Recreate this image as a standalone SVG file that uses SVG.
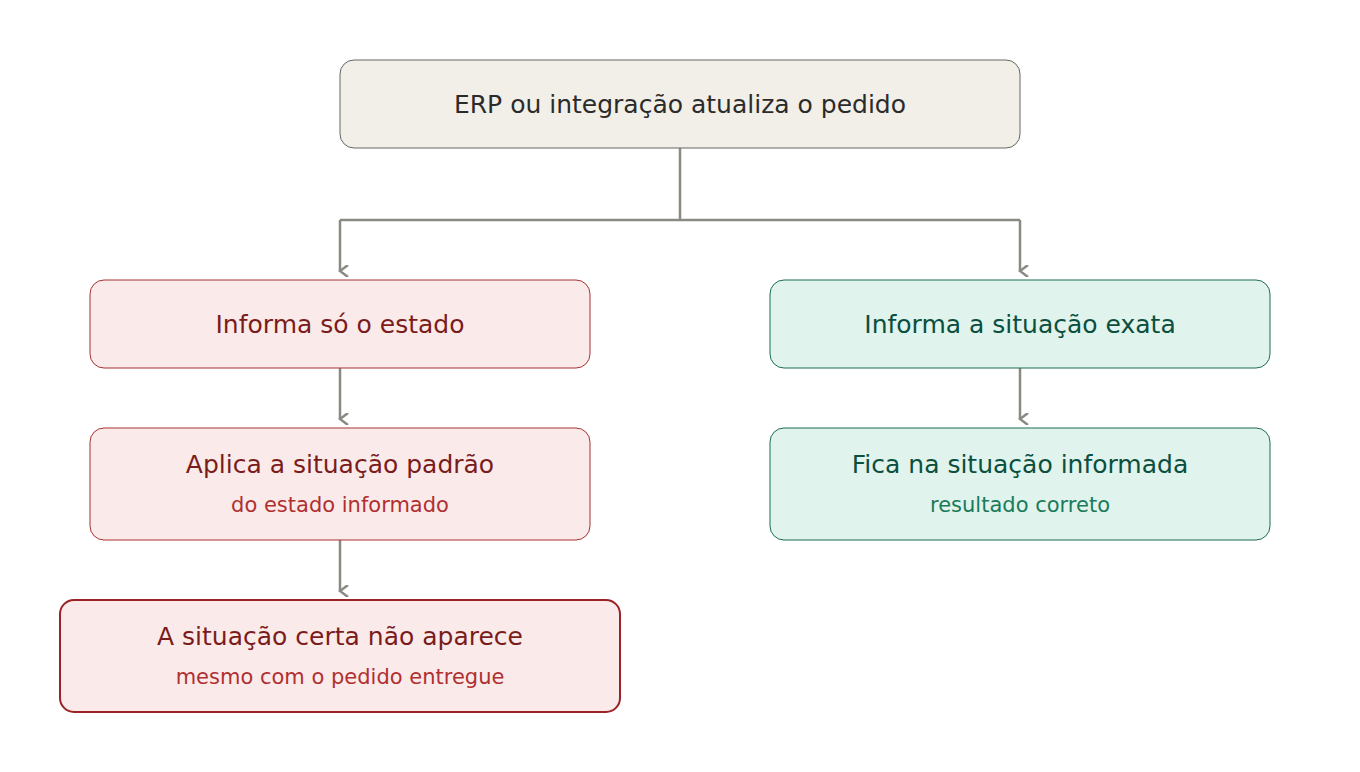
<svg xmlns="http://www.w3.org/2000/svg" width="1360" height="772" viewBox="0 0 1360 772">
<style>
text{font-family:"DejaVu Sans",sans-serif;text-anchor:middle}
.t{font-size:25px}.s{font-size:21px}
.n{fill:#f2efe8;stroke:#666;stroke-width:1}
.r{fill:#fbeaea;stroke:#a83232;stroke-width:1}
.r2{fill:#fbeaea;stroke:#9b2226;stroke-width:2}
.g{fill:#e0f3ec;stroke:#1a6e50;stroke-width:1}
.rt{fill:#7a1c1c}.rs{fill:#b03030}.gt{fill:#0b4f3f}.gs{fill:#1a7a5a}
.c{fill:none;stroke:#8a8a82;stroke-width:2.5}
</style>
<defs><marker id="a" markerWidth="12" markerHeight="12" refX="6" refY="10" orient="auto" markerUnits="userSpaceOnUse" viewBox="0 0 12 12"><path d="M0,2 L6,10 L12,2" fill="none" stroke="#8a8a82" stroke-width="2.5"/></marker></defs>
<rect width="1360" height="772" fill="#fff"/>
<g id="connectors">
<path class="c" d="M680,148 V220 M340,220 H1020"/>
<path class="c" d="M340,220 V271" marker-end="url(#a)"/>
<path class="c" d="M1020,220 V271" marker-end="url(#a)"/>
<path class="c" d="M340,368 V419" marker-end="url(#a)"/>
<path class="c" d="M1020,368 V419" marker-end="url(#a)"/>
<path class="c" d="M340,540 V591" marker-end="url(#a)"/>
</g>
<g id="top"><rect class="n" x="340" y="60" width="680" height="88" rx="14"/><text class="t" x="680" y="113" fill="#2b2b2b">ERP ou integração atualiza o pedido</text></g>
<g id="l1"><rect class="r" x="90" y="280" width="500" height="88" rx="14"/><text class="t rt" x="340" y="333">Informa só o estado</text></g>
<g id="l2"><rect class="r" x="90" y="428" width="500" height="112" rx="14"/><text class="t rt" x="340" y="473">Aplica a situação padrão</text><text class="s rs" x="340" y="512">do estado informado</text></g>
<g id="l3"><rect class="r2" x="60" y="600" width="560" height="112" rx="14"/><text class="t rt" x="340" y="645">A situação certa não aparece</text><text class="s rs" x="340" y="684">mesmo com o pedido entregue</text></g>
<g id="r1"><rect class="g" x="770" y="280" width="500" height="88" rx="14"/><text class="t gt" x="1020" y="333">Informa a situação exata</text></g>
<g id="r2"><rect class="g" x="770" y="428" width="500" height="112" rx="14"/><text class="t gt" x="1020" y="473">Fica na situação informada</text><text class="s gs" x="1020" y="512">resultado correto</text></g>
</svg>
